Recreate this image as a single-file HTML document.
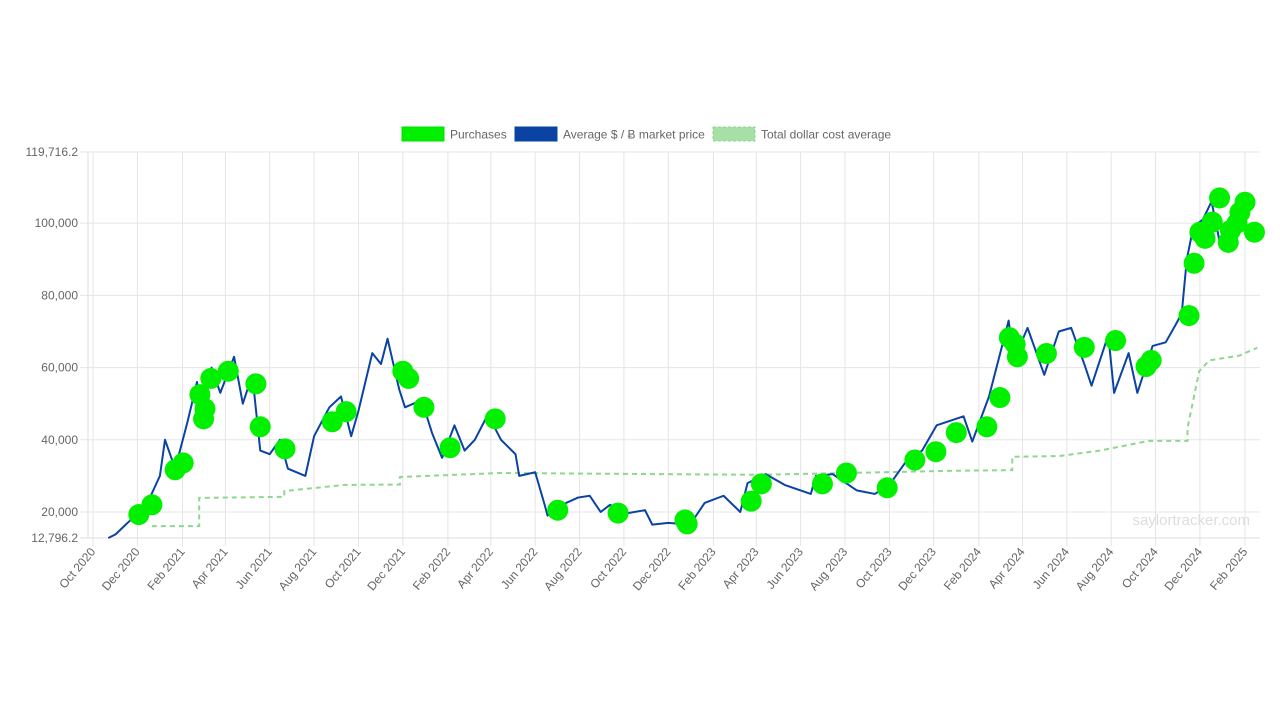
<!DOCTYPE html>
<html><head><meta charset="utf-8"><style>
html,body{margin:0;padding:0;background:#fff;}
svg{display:block;font-family:"Liberation Sans",sans-serif;}
</style></head><body>
<svg id="chart" width="1280" height="720"></svg>
<script>
const priceDates=["2020-10-22","2020-11-01","2020-11-15","2020-12-01","2020-12-16","2021-01-01","2021-01-08","2021-01-22","2021-02-08","2021-02-21","2021-02-28","2021-03-13","2021-03-25","2021-04-13","2021-04-25","2021-05-08","2021-05-19","2021-06-01","2021-06-15","2021-06-26","2021-07-20","2021-08-01","2021-08-22","2021-09-07","2021-09-21","2021-10-01","2021-10-20","2021-11-01","2021-11-10","2021-11-26","2021-12-04","2021-12-27","2022-01-10","2022-01-24","2022-02-10","2022-02-24","2022-03-10","2022-03-28","2022-04-15","2022-05-05","2022-05-10","2022-06-01","2022-06-14","2022-06-18","2022-07-08","2022-07-30","2022-08-15","2022-08-30","2022-09-12","2022-10-01","2022-10-30","2022-11-09","2022-12-01","2022-12-31","2023-01-20","2023-02-15","2023-03-10","2023-03-20","2023-04-14","2023-05-10","2023-06-15","2023-06-22","2023-07-15","2023-08-17","2023-09-11","2023-10-01","2023-10-24","2023-11-15","2023-12-05","2024-01-11","2024-01-23","2024-02-15","2024-03-13","2024-03-20","2024-04-08","2024-05-01","2024-05-21","2024-06-07","2024-06-25","2024-07-05","2024-07-28","2024-08-05","2024-08-25","2024-09-06","2024-09-27","2024-10-15","2024-10-29","2024-11-06","2024-11-13","2024-11-22","2024-12-05","2024-12-17","2024-12-30","2025-01-20","2025-02-02","2025-02-21"];
const priceValues=[12800,13800,16500,19500,23000,30000,40000,32000,45000,56000,46000,60000,53000,63000,50000,58000,37000,36000,40000,32000,30000,41000,49000,52000,41000,48000,64000,61000,68000,54000,49000,51000,42000,35000,44000,37000,40000,47000,40000,36000,30000,31000,22000,19000,22000,24000,24500,20000,22000,19500,20500,16500,17000,16500,22500,24500,20000,28000,30500,27500,25000,30000,30500,26000,25000,27500,34000,37000,44000,46500,39500,52000,73000,62000,71000,58000,70000,71000,61000,55000,69000,53000,64000,53000,66000,67000,72000,75000,90000,99000,101000,106000,93000,105000,97000,96000];
const buyDates=["2020-12-03","2020-12-21","2021-01-22","2021-02-02","2021-02-25","2021-03-04","2021-03-02","2021-03-12","2021-04-05","2021-05-13","2021-05-19","2021-06-22","2021-08-26","2021-09-14","2021-12-01","2021-12-09","2021-12-30","2022-02-04","2022-04-07","2022-07-02","2022-09-23","2022-12-24","2022-12-27","2023-03-25","2023-04-08","2023-07-01","2023-08-03","2023-09-28","2023-11-05","2023-12-04","2024-01-01","2024-02-12","2024-03-01","2024-03-14","2024-03-22","2024-03-25","2024-05-04","2024-06-25","2024-08-07","2024-09-18","2024-09-25","2024-11-16","2024-11-23","2024-12-01","2024-12-08","2024-12-18","2024-12-28","2025-01-09","2025-01-12","2025-01-21","2025-01-25","2025-02-01","2025-02-14"];
const buyValues=[19300,22000,31700,33600,52500,48600,45800,57000,59000,55500,43600,37500,45000,47800,59000,57000,49000,37800,45800,20500,19700,17800,16700,23000,27800,27800,30800,26700,34400,36700,42000,43600,51700,68300,66500,63000,63900,65600,67500,60300,62000,74400,88900,97500,95800,100300,107000,94700,98000,100000,103000,105800,97500];
const dcaDates=["2020-12-21","2021-02-24","2021-02-24","2021-06-21","2021-06-21","2021-09-12","2021-11-27","2021-11-27","2022-04-14","2023-04-05","2023-12-23","2024-03-18","2024-03-18","2024-05-22","2024-07-16","2024-09-22","2024-11-14","2024-11-14","2024-11-30","2024-12-14","2025-01-24","2025-02-18"];
const dcaValues=[16100,16100,23900,24200,25800,27500,27600,29700,30800,30300,31400,31600,35300,35500,37000,39700,39700,43300,59000,62000,63300,65500];
const yTicks=[12796.2,20000,40000,60000,80000,100000,119716.2];
const yTickLabels=["12,796.2","20,000","40,000","60,000","80,000","100,000","119,716.2"];
const xTickDates=["2020-10-01","2020-12-01","2021-02-01","2021-04-01","2021-06-01","2021-08-01","2021-10-01","2021-12-01","2022-02-01","2022-04-01","2022-06-01","2022-08-01","2022-10-01","2022-12-01","2023-02-01","2023-04-01","2023-06-01","2023-08-01","2023-10-01","2023-12-01","2024-02-01","2024-04-01","2024-06-01","2024-08-01","2024-10-01","2024-12-01","2025-02-01"];
const xTickLabels=["Oct 2020","Dec 2020","Feb 2021","Apr 2021","Jun 2021","Aug 2021","Oct 2021","Dec 2021","Feb 2022","Apr 2022","Jun 2022","Aug 2022","Oct 2022","Dec 2022","Feb 2023","Apr 2023","Jun 2023","Aug 2023","Oct 2023","Dec 2023","Feb 2024","Apr 2024","Jun 2024","Aug 2024","Oct 2024","Dec 2024","Feb 2025"];

const svg=document.getElementById('chart');
const NS='http://www.w3.org/2000/svg';
const L=88,R=1260,T=152,B=538;
const d0=Date.parse("2020-10-01"),d1=Date.parse("2025-02-01");
function X(d){return 93+(Date.parse(d)-d0)/(d1-d0)*(1245-93);}
const yMin=12796.2,yMax=119716.2;
function Y(v){return B-(v-yMin)/(yMax-yMin)*(B-T);}
function mk(tag,attrs,parent){const e=document.createElementNS(NS,tag);for(const k in attrs)e.setAttribute(k,attrs[k]);(parent||svg).appendChild(e);return e;}

const grid=mk('g',{});


yTicks.forEach((v,i)=>{
  const y=Y(v);
  mk('line',{x1:80,x2:R,y1:y,y2:y,stroke:'#e5e5e5','stroke-width':1},grid);
  const t=mk('text',{x:78,y:y+4,'text-anchor':'end','font-size':12,fill:'#666'});
  t.textContent=yTickLabels[i];
  
  
});
xTickDates.forEach((d,i)=>{
  const x=X(d);
  mk('line',{x1:x,x2:x,y1:T,y2:B+8,stroke:'#e5e5e5','stroke-width':1},grid);
  const t=mk('text',{transform:`translate(${x+3},${B+14}) rotate(-50)`,'text-anchor':'end','font-size':12,fill:'#666'});
  t.textContent=xTickLabels[i];
  
  
});
mk('line',{x1:L,x2:L,y1:T,y2:B,stroke:'#ddd'},grid);
mk('line',{x1:80,x2:R,y1:B,y2:B,stroke:'#ddd'},grid);

const wm=mk('text',{x:1250,y:525,'text-anchor':'end','font-size':15,fill:'#ddd'});
wm.textContent='saylortracker.com';



const dca=mk('polyline',{points:dcaDates.map((d,i)=>X(d)+','+Y(dcaValues[i])).join(' '),fill:'none',stroke:'#8fd68f','stroke-width':2,'stroke-dasharray':'5,4'});



const pl=mk('polyline',{points:priceDates.map((d,i)=>X(d)+','+Y(priceValues[i])).join(' '),fill:'none',stroke:'#0a43a3','stroke-width':2,'stroke-linejoin':'round'});



buyDates.forEach((d,i)=>{
  const c=mk('circle',{cx:X(d),cy:Y(buyValues[i]),r:10.5,fill:'#00f000'});
  
  
});

const lg=mk('g',{});


const items=[["Purchases",402,'#00f000','#00e000',false],["Average $ / Ƀ market price",515,'#0a43a3','#0a43a3',false],["Total dollar cost average",713,'#a6e0a6','#8fd68f',true]];
items.forEach(it=>{
  const g=mk('g',{},lg);
  
  
  const r=mk('rect',{x:it[1],y:127,width:42,height:14,fill:it[2],stroke:it[3],'stroke-width':1});
  if(it[4])r.setAttribute('stroke-dasharray','3,2');
  const t=mk('text',{x:it[1]+48,y:138.5,'font-size':12,fill:'#666'},g);
  g.insertBefore(r,t);
  t.textContent=it[0];
});
</script>
</body></html>
